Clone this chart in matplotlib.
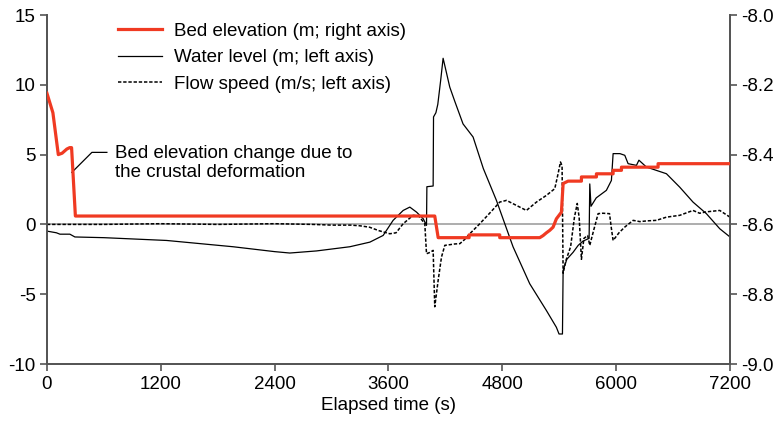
import numpy as np
import matplotlib
matplotlib.use("Agg")
import matplotlib.pyplot as plt
from matplotlib.lines import Line2D

plt.rcParams['font.family'] = ['Liberation Sans', 'DejaVu Sans']
plt.rcParams['font.size'] = 13.5
plt.rcParams['axes.unicode_minus'] = False

# water level (m, left axis)
wl_t = [0, 100, 137, 242, 295, 600, 1261, 1962, 2400, 2560, 2842, 3193, 3404, 3544, 3649,
        3755, 3825, 3896, 3966, 4001, 4005, 4071, 4075, 4100, 4120, 4150, 4176, 4200, 4246,
        4300, 4386, 4492, 4600, 4738, 4913, 5089, 5265, 5370, 5398, 5434, 5441, 5480, 5546,
        5600, 5650, 5715, 5722, 5735, 5790, 5897, 5950, 5968, 6040, 6091, 6126, 6214, 6240,
        6319, 6424, 6530, 6670, 6810, 6951, 7092, 7200]
wl_v = [-0.48, -0.6, -0.7, -0.7, -0.9, -0.95, -1.15, -1.6, -1.95, -2.05, -1.9, -1.6, -1.27, -0.79, 0.29,
        1.0, 1.24, 0.88, 0.41, -0.07, 2.7, 2.75, 7.7, 8.0, 8.6, 10.3, 11.9, 11.2, 9.84,
        8.8, 7.2, 6.26, 4.0, 1.72, -1.6, -4.25, -6.17, -7.37, -7.85, -7.85, -3.3, -2.5, -2.0,
        -1.5, -1.2, -1.0, 2.9, 1.3, 1.9, 2.44, 3.15, 5.07, 5.07, 4.95, 4.35, 4.23, 4.6,
        4.11, 3.87, 3.63, 2.67, 1.6, 0.77, -0.31, -0.9]

# flow speed (m/s, left axis)
fs_t = [0, 600, 1200, 1800, 2400, 2800, 3000, 3200, 3300, 3400, 3500, 3614, 3680, 3755,
        3860, 3920, 3983, 4001, 4040, 4071, 4088, 4124, 4159, 4194, 4250, 4300, 4352, 4400,
        4457, 4563, 4680, 4773, 4844, 4949, 5054, 5160, 5265, 5353, 5388, 5413, 5430, 5441,
        5470, 5520, 5560, 5590, 5610, 5634, 5660, 5700, 5722, 5760, 5810, 5860, 5930, 5950,
        5968, 6030, 6091, 6179, 6250, 6319, 6424, 6530, 6670, 6810, 6880, 6951, 7092, 7200]
fs_v = [0, 0, 0.05, 0, 0.05, 0, -0.05, -0.05, -0.1, -0.2, -0.45, -0.67, -0.6, 0.05,
        0.65, 0.6, 0.05, -2.1, -2.0, -1.86, -5.9, -4.0, -2.34, -1.5, -1.45, -1.4, -1.38, -1.1,
        -0.67, 0.05, 0.9, 1.6, 1.72, 1.36, 1.0, 1.6, 2.08, 2.56, 3.63, 4.47, 4.2, -3.5,
        -2.6, -1.6, 0.5, 1.5, 0.5, -2.5, -1.0, -0.8, -1.5, -0.5, 0.77, 0.8, 0.77, -0.3,
        -1.15, -0.6, -0.19, 0.29, 0.2, 0.25, 0.29, 0.52, 0.65, 1.0, 0.8, 0.9, 1.0, 0.52]

# bed elevation (m, right axis)
bed_t = [0, 63, 120, 160, 210, 240, 260, 300, 4088, 4124, 4450, 4450, 4773, 4773, 5195,
         5230, 5265, 5300, 5335, 5370, 5423, 5441, 5493, 5634, 5634, 5792, 5792, 5968, 5968,
         6056, 6056, 6442, 6442, 7200]
bed_v = [-8.224, -8.28, -8.40, -8.396, -8.384, -8.38, -8.38, -8.576, -8.576, -8.638, -8.638, -8.63,
         -8.63, -8.638, -8.638, -8.632, -8.624, -8.617, -8.608, -8.584, -8.565, -8.483, -8.476,
         -8.476, -8.464, -8.464, -8.455, -8.455, -8.445, -8.445, -8.436, -8.436, -8.426, -8.426]

red = '#f03a22'
dash = (0, (2.2, 1.2))

fig = plt.figure(figsize=(7.82, 4.24), dpi=100)
ax = fig.add_axes([0.060, 0.1415, 0.8735, 0.8231])
ax2 = ax.twinx()

ax.axhline(0, color='#a0a0a0', lw=1.2, zorder=1)
ax.plot(wl_t, wl_v, color='black', lw=0.9, zorder=3)
ax.plot(fs_t, fs_v, color='black', lw=1.1, ls=dash, zorder=3)
ax2.plot(bed_t, bed_v, color=red, lw=2.3, zorder=4)

ax.set_xlim(0, 7200)
ax.set_ylim(-10, 15)
ax2.set_ylim(-9.0, -8.0)
ax.set_xticks(np.arange(0, 7201, 1200))
ax.set_yticks(np.arange(-10, 16, 5))
ax2.set_yticks(np.arange(-9.0, -7.99, 0.2))
ax2.set_yticklabels(['%.1f' % v for v in np.arange(-9.0, -7.99, 0.2)])
ax.set_xlabel('Elapsed time (s)', labelpad=3)

for a in (ax, ax2):
    a.spines['top'].set_visible(False)
    for s in ('left', 'right', 'bottom'):
        a.spines[s].set_color('#555555')
        a.spines[s].set_linewidth(1.3)
    a.tick_params(direction='out', length=5, width=1.2, color='#555555', labelcolor='black')
ax.tick_params(axis='y', pad=3)
ax2.tick_params(axis='y', pad=3)

handles = [Line2D([], [], color=red, lw=2.3),
           Line2D([], [], color='black', lw=0.9),
           Line2D([], [], color='black', lw=1.1, ls=dash)]
labels = ['Bed elevation (m; right axis)', 'Water level (m; left axis)',
          'Flow speed (m/s; left axis)']
ax.legend(handles, labels, loc='upper left', bbox_to_anchor=(0.08, 1.026), frameon=False,
          handlelength=2.3, handletextpad=0.65, labelspacing=0.5)

ax.plot([263, 474, 632], [3.73, 5.16, 5.16], color='black', lw=0.9)
ax.text(716, 4.4, 'Bed elevation change due to\nthe crustal deformation',
        va='center', ha='left', linespacing=1.2)

fig.savefig('out.png', dpi=100)
